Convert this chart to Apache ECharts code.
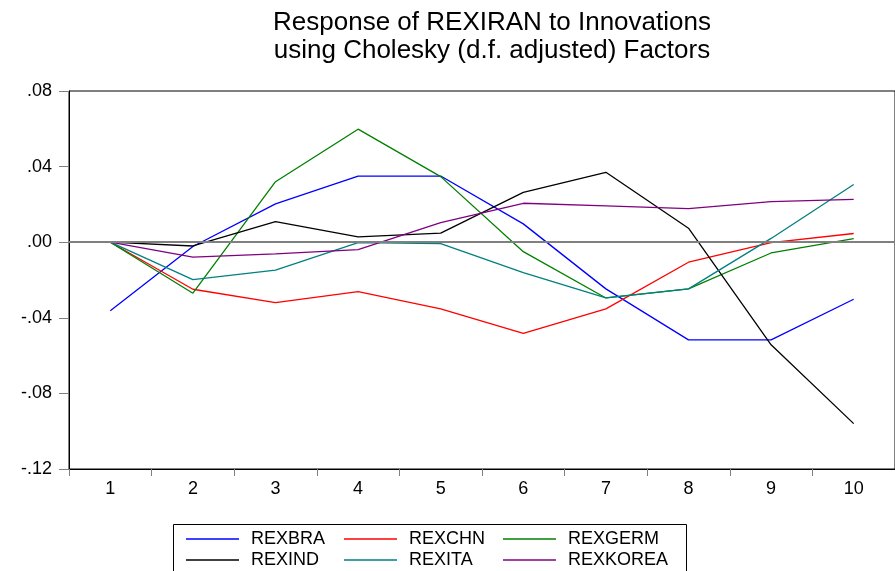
<!DOCTYPE html>
<html>
<head>
<meta charset="utf-8">
<script src="https://cdn.jsdelivr.net/npm/echarts@6/dist/echarts.min.js"></script>
<style>
  html, body { margin: 0; padding: 0; background: #fff; }
  #chart { width: 895px; height: 571px; }
</style>
</head>
<body>
<div id="chart"></div>
<script>
// periods after the shock
var periods = ['1', '2', '3', '4', '5', '6', '7', '8', '9', '10'];

// responses of REXIRAN
var rexbra   = [-0.0363, -0.0023, 0.0203, 0.0350, 0.0350, 0.0097, -0.0247, -0.0517, -0.0517, -0.0302];
var rexchn   = [0, -0.0249, -0.0320, -0.0261, -0.0353, -0.0482, -0.0353, -0.0106, -0.0002, 0.0046];
var rexgerm  = [0, -0.0270, 0.0320, 0.0598, 0.0347, -0.0050, -0.0295, -0.0247, -0.0057, 0.0019];
var rexind   = [0, -0.0020, 0.0109, 0.0028, 0.0048, 0.0264, 0.0370, 0.0074, -0.0543, -0.0960];
var rexita   = [0, -0.0198, -0.0148, -0.0002, -0.0007, -0.0161, -0.0295, -0.0247, 0.0020, 0.0305];
var rexkorea = [0, -0.0079, -0.0062, -0.0039, 0.0104, 0.0206, 0.0192, 0.0178, 0.0215, 0.0227];

var names  = ['REXBRA', 'REXCHN', 'REXGERM', 'REXIND', 'REXITA', 'REXKOREA'];
var colors = ['#0000ff', '#ff0000', '#008000', '#000000', '#008080', '#800080'];
var values = [rexbra, rexchn, rexgerm, rexind, rexita, rexkorea];

var font = 'Liberation Sans, Arial, sans-serif';

function fmtTick(v) {
    var s = Math.abs(v).toFixed(2).replace(/^0/, '');
    return (v < -1e-9 ? '-' : '') + s;
}

var chart = echarts.init(document.getElementById('chart'));

var series = [];
for (var i = 0; i < names.length; i++) {
    var s = {
        name: names[i],
        type: 'line',
        data: values[i],
        symbol: 'none',
        color: colors[i],
        lineStyle: { width: 1.3, color: colors[i] },
        animation: false
    };
    if (i === 0) {
        // zero line
        s.markLine = {
            silent: true,
            symbol: 'none',
            label: { show: false },
            lineStyle: { color: '#808080', width: 2, type: 'solid' },
            data: [{ yAxis: 0 }],
            animation: false
        };
    }
    series.push(s);
}

// legend: 3 columns x 2 rows
var legendLeft = [186, 344, 503];
var legendTop = [530, 551];
var legends = [];
for (var j = 0; j < names.length; j++) {
    legends.push({
        data: [names[j]],
        left: legendLeft[j % 3],
        top: legendTop[Math.floor(j / 3)],
        padding: 0,
        icon: 'rect',
        itemWidth: 53,
        itemHeight: 1.5,
        selectedMode: false,
        textStyle: { fontFamily: font, fontSize: 18, color: '#000', padding: [0, 0, 0, 7] }
    });
}

chart.setOption({
    backgroundColor: '#fff',
    title: {
        text: 'Response of REXIRAN to Innovations\nusing Cholesky (d.f. adjusted) Factors',
        left: 487,
        top: 4,
        textAlign: 'center',
        textStyle: { fontFamily: font, fontSize: 26, fontWeight: 'normal', color: '#000', lineHeight: 28 }
    },
    legend: legends,
    grid: {
        left: 69, top: 91, width: 837, height: 378,
        containLabel: false,
        show: true, borderColor: '#000', borderWidth: 1
    },
    xAxis: {
        type: 'category',
        data: periods,
        boundaryGap: true,
        axisLine: { onZero: false, lineStyle: { color: '#000', width: 1 } },
        axisTick: { show: true, length: 7, lineStyle: { color: '#808080' } },
        axisLabel: { fontFamily: font, fontSize: 18, color: '#000', margin: 11 },
        splitLine: { show: false }
    },
    yAxis: {
        type: 'value',
        min: -0.12,
        max: 0.08,
        interval: 0.04,
        axisLine: { show: true, lineStyle: { color: '#000', width: 1 } },
        axisTick: { show: true, length: 10, lineStyle: { color: '#808080' } },
        axisLabel: { fontFamily: font, fontSize: 18, color: '#000', margin: 17, formatter: fmtTick },
        splitLine: { show: false }
    },
    graphic: [{
        type: 'rect',
        shape: { x: 173.5, y: 524.5, width: 513, height: 60 },
        style: { fill: null, stroke: '#000', lineWidth: 1 },
        silent: true
    }],
    series: series,
    animation: false
});
</script>
</body>
</html>
